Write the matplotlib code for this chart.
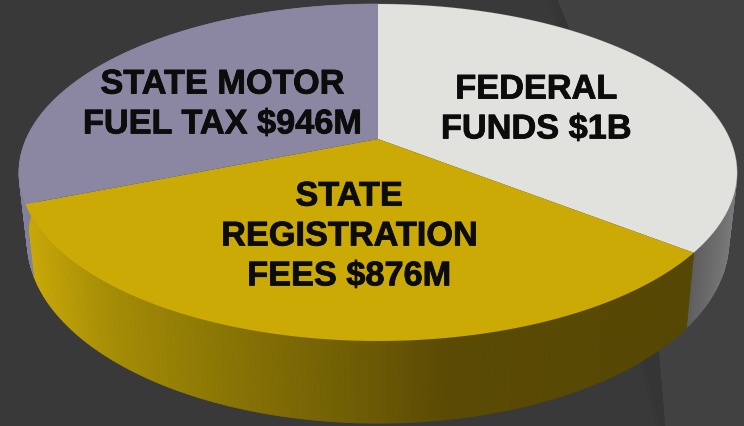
import numpy as np
import matplotlib
matplotlib.use("Agg")
import matplotlib.pyplot as plt
import matplotlib.patheffects as pe

# slice sizes as drawn in the picture, they do not quite follow the printed labels
names = ["FEDERAL\nFUNDS $1B", "STATE\nREGISTRATION\nFEES $876M", "STATE MOTOR\nFUEL TAX $946M"]
sizes = [1004, 941, 877]
top_colors = ["#e1e2de", "#cbaa05", "#8b87a3"]
label_x = [536, 349, 222]
label_y = [111, 238, 106]

# side shading, from screen x to grey level / colour
side_x = {0: [690, 740], 1: [30, 100, 200, 300, 372, 450, 690], 2: [15, 40]}
side_r = {0: [92, 125], 1: [200, 168, 143, 122, 108, 90, 86], 2: [130, 135]}
side_g = {0: [92, 125], 1: [168, 143, 122, 103, 90, 74, 72], 2: [127, 131]}
side_b = {0: [92, 125], 1: [8, 6, 5, 5, 5, 4, 4], 2: [155, 160]}

cx, cy = 378, 140
a, b, k = 351.8, 161.8, 0.199


def top_rim(theta):
    u, v = np.sin(theta), np.cos(theta)
    w = 1 + k * v
    return cx + a * u / w, cy - b * v / w


def bottom_rim(theta):
    x, y = top_rim(theta)
    return cx + (x - cx) * 0.977, cy + (y - cy) * 1.08 + 66


fig = plt.figure(figsize=(7.44, 4.27), dpi=100, facecolor="#393939")
ax = fig.add_axes([0, 0, 1, 1])
ax.set_xlim(0, 744)
ax.set_ylim(427, 0)
ax.axis("off")

# background fold
ax.fill([557, 569, 659, 665, 744, 744], [0, 30, 355, 427, 427, 0], color="#414141", lw=0)
for off, col in [(14, "#393939"), (9, "#373737"), (5, "#353535")]:
    ax.fill([557 - off, 557, 569, 659, 665, 665 - off], [0, 0, 30, 355, 427, 427], color=col, lw=0)

edges = np.radians(np.concatenate([[0], np.cumsum(sizes)]) / sum(sizes) * 360)

# side wall
for i in range(len(sizes)):
    th = np.linspace(edges[i], edges[i + 1], 150)
    x1, y1 = top_rim(th)
    x2, y2 = bottom_rim(th)
    for j in range(len(th) - 1):
        xm = (x1[j] + x1[j + 1]) / 2
        col = (np.interp(xm, side_x[i], side_r[i]) / 255,
               np.interp(xm, side_x[i], side_g[i]) / 255,
               np.interp(xm, side_x[i], side_b[i]) / 255)
        ax.fill([x1[j], x1[j + 1], x2[j + 1], x2[j]],
                [y1[j], y1[j + 1], y2[j + 1], y2[j]],
                color=col, lw=0.6, zorder=2)

# top face
for i in range(len(sizes)):
    th = np.linspace(edges[i], edges[i + 1], 200)
    x, y = top_rim(th)
    ax.fill(np.r_[cx, x], np.r_[cy, y], color=top_colors[i], lw=0, zorder=3)
    t = ax.text(label_x[i], label_y[i], names[i], ha="center", va="center", ma="center",
                family="Liberation Sans", weight="bold", fontsize=24.7, color="#0c0c0c",
                linespacing=1.37, zorder=4)
    t.set_path_effects([pe.withStroke(linewidth=0.6, foreground="#0c0c0c")])

fig.savefig("out.png", dpi=100, facecolor=fig.get_facecolor())
